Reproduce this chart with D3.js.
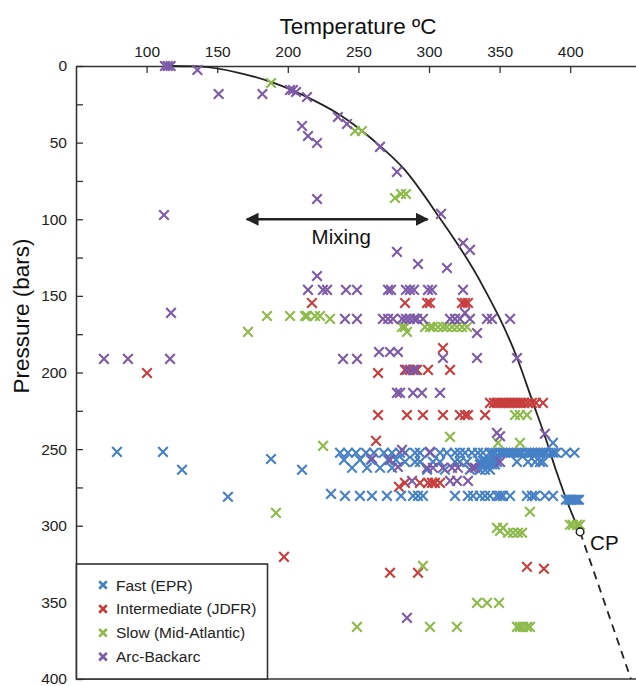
<!DOCTYPE html>
<html><head><meta charset="utf-8">
<script src="https://cdn.jsdelivr.net/npm/d3@7"></script>
<style>
body{margin:0;background:#fff;}
svg{display:block;font-family:"Liberation Sans",Arial,Helvetica,sans-serif;}
</style></head>
<body><svg id="c" width="636" height="686"></svg>
<script>
// ---- data (Temperature °C, Pressure bars) ----
const seriesNames = ["Fast (EPR)", "Intermediate (JDFR)", "Slow (Mid-Atlantic)", "Arc-Backarc"];
const seriesColors = ["#4580c6", "#c83c3c", "#8dba4a", "#7d5aa8"];

const fastData = [
 [79,251.8],[111.6,251.8],[125.1,263.5],[157.6,281.1],[188.1,256.4],[210.1,263.5],[230.6,279.2],
 [237,252.4],[242.6,252.4],[248.3,252.4],[255.4,252.4],[261,252.4],[268.1,252.4],[273.8,252.4],[279.5,252.4],
 [283,252.4],[290.1,252.4],[293.6,252.4],[300.7,252.4],[307.8,252.4],[312.7,252.4],[318.4,252.4],[321.9,252.4],
 [325.5,252.4],[330.4,252.4],[334.7,252.4],[338.2,252.4],
 [343,252.4],[345,252.4],[347,252.4],[350,252.4],[352,252.4],[354,252.4],[356,252.4],[358,252.4],[360,252.4],
 [362,252.4],[364,252.4],[366,252.4],[369,252.4],[371,252.4],[373,252.4],[375,252.4],[377,252.4],[379,252.4],
 [381,252.4],[383,252.4],[386,252.4],[388,252.4],[390,252.4],[397,252.4],[403,252.4],
 [239.8,257],[251.1,257],[258.9,257],[271,257],[276.6,257],
 [283,258.3],[290.1,258.3],[293.6,258.3],[302.8,258.3],[307.8,258.3],[318.4,258.3],[321.9,258.3],[326.9,258.3],
 [336.1,258.3],[338.9,258.3],[341.1,258.3],[343.2,258.3],[346,258.3],[348.1,258.3],[362.3,258.3],[370.1,258.3],
 [375.1,258.3],[378.6,258.3],[380.7,258.3],
 [336.1,260],[338.2,260],[340.4,260],[342.5,260],[344.6,260],[346.7,260],
 [245.5,262.2],[256.1,262.2],[265.3,262.2],[273.8,262.2],
 [298.6,263.5],[311.3,263.5],[329,263.5],[336.1,263.5],[339.7,263.5],[343.2,263.5],
 [240.5,280.5],[251.1,280.5],[259.6,280.5],[270.2,280.5],[280.2,280.5],[288.7,280.5],[292.2,280.5],[295.7,280.5],
 [318.4,280.5],[327.6,280.5],[331.2,280.5],[336.1,280.5],[339.7,280.5],[343.2,280.5],[348.1,280.5],[350.3,280.5],
 [352.4,280.5],[357.4,280.5],[369.4,280.5],[372.9,280.5],[375.1,280.5],[382.1,280.5],[387.8,280.5],
 [397,283],[399.1,283],[400.5,283],[401.9,283],[403.4,283],[404.8,283],[406.2,283],
 [387.8,245.9]
];
const intermediateData = [
 [100.3,200.3],[217.1,154.6],[283,154.6],[298.6,154.6],[300.7,154.6],[323.4,154.6],[325.5,154.6],[327.6,154.6],
 [309.9,184],[263.9,200.3],
 [283,198.3],[286.5,198.3],[291.5,198.3],[299.3,198.3],[314.9,198.3],
 [343.2,219.8],[346,219.8],[348.1,219.8],[350.3,219.8],[352.4,219.8],[354.5,219.8],[356.7,219.8],[358.8,219.8],
 [360.9,219.8],[363,219.8],[365.2,219.8],[367.3,219.8],[370.1,219.8],[372.9,219.8],[375.8,219.8],[380.7,219.8],
 [263.9,227.7],[284.4,227.7],[295.7,227.7],[309.9,227.7],[321.9,227.7],[325.5,227.7],[327.6,227.7],[339.7,227.7],
 [262.5,244.6],
 [283,272],[293.6,272],[299.3,272],[302.1,272],[304.2,272],[307.8,272],[278.7,274.6],
 [197.3,320.3],[272.4,330.7],[292.2,330.7],[369.4,326.8],[381.4,328.1]
];
const slowData = [
 [188.1,11.1],[247.6,42.4],[252.5,42.4],[275.9,86.1],[280.2,83.5],[283.7,83.5],
 [185.3,163.1],[201.6,163.1],[212.2,163.1],[213.6,163.1],[219.3,163.1],[222.8,163.1],[229.9,165],[171.8,173.5],
 [280.9,170.3],[283,170.3],[297.2,170.3],[300.7,170.3],[302.8,170.3],[306.4,170.3],[309.9,170.3],[312.7,170.3],
 [316.3,170.3],[319.8,170.3],[323.4,170.3],[326.9,170.3],[284.4,173.5],
 [360.9,227.7],[364.4,227.7],[369.4,227.7],
 [314.9,242],[348.9,245.9],[364.4,245.9],[225,247.9],
 [191.6,291.6],[371.5,290.9],
 [399.8,299.4],[401.9,299.4],[404.8,299.4],[406.9,299.4],
 [348.1,301.4],[350.3,303.4],[352.4,301.4],[356,304.6],[359.5,304.6],[363,304.6],[365.9,304.6],
 [295.7,326.2],[334,350.3],[341.1,350.3],[349.6,350.3],
 [249,366],[300.7,366],[319.8,366],[362.3,366],[364.4,366],[366.6,366],[369.4,366],[371.5,366]
];
const arcData = [
 [113,0],[115,0],[117,0],[136,2.6],[151,18.3],[182,18.3],[201.6,15.7],[203.7,15.7],[205.8,17],[213.6,20.2],
 [210.1,39.1],[214.3,45.7],[220.7,50.2],[235.5,33.3],[241.9,37.8],[265.3,52.8],[277.3,69.1],[220.7,86.8],
 [308.5,96.5],[112.3,97.2],[324.1,115.5],[329,120],[277.3,121.3],[292.2,129.2],[312.7,131.8],[220.7,137],
 [214.3,146.1],[224.9,146.1],[227.8,146.1],[241.2,146.1],[249,146.1],[271,146.1],[273.1,146.1],[283.7,146.1],
 [286.5,146.1],[289.4,146.1],[299.3,146.1],[302.1,146.1],[324.1,146.1],
 [117.3,161.1],
 [240.5,165],[249,165],[267.4,165],[271,165],[274.5,165],[280.9,165],[283.7,165],[286.5,165],[289.4,165],
 [291.5,165],[295.7,165],[314.9,165],[318.4,165],[321.9,165],[329,165],[341.1,165],[344.6,165],[357.4,165],
 [325.5,161.1],[334,174.2],
 [309.9,190.5],[334,190.5],[362.3,190.5],[239.1,191.1],[249,191.1],
 [264.6,186.6],[272.4,186.6],[278,186.6],
 [69.8,191.1],[86.8,191.1],[116.6,191.1],
 [284.4,198.3],[288.7,198.3],[290.1,198.3],
 [277.3,213.3],[279.5,213.3],[288.7,213.3],[295,213.3],[307.8,213.3],
 [348.1,239.4],[350.3,241.6],[382.1,240],
 [280.9,250.5],[300.7,251.8],
 [259.6,256.1],[272.4,257],[278,261.6],
 [298.6,262.2],[302.8,262.2],[309.9,262.2],[316.3,262.2],[320.5,262.2],[330.4,262.2],[332.6,262.2],[350.3,258.3],
 [288,270.7],[314.9,270.7],[319.8,270.7],[327.6,270.7],
 [284.4,360.1]
];
const allSeries = [fastData, intermediateData, slowData, arcData];

// boiling curve and critical point
const curveT = [113,136,166,190,213,237,260,283,306,336,363,373,383,390,403,407];
const curveP = [0,0.3,4.6,11,20,32,48,68,97,140,192,218,244,264,296,304];
const criticalPoint = [407,304];
const supercriticalEnd = [443,400];
const mixingRange = [171, 299];
const mixingPressure = 100;

const xTicks = [100,150,200,250,300,350,400];
const yTicks = [0,25,50,75,100,125,150,175,200,225,250,275,300,325,350,375,400];

// ---- drawing ----
const svg = d3.select("#c");
const x = d3.scaleLinear().domain([50,450]).range([76,640.8]);
const y = d3.scaleLinear().domain([0,400]).range([66,679]);
const axisColor = "#333";

// top axis
const gx = svg.append("g").attr("transform","translate(0,66)")
  .call(d3.axisTop(x).tickValues(xTicks).tickSizeInner(-7).tickSizeOuter(0).tickPadding(9));
gx.select(".domain").attr("stroke",axisColor).attr("stroke-width",1.6);
gx.selectAll(".tick line").attr("stroke",axisColor).attr("stroke-width",1.3);
gx.selectAll(".tick text").attr("font-size",15.5).attr("fill","#222")
  .attr("font-family","'Liberation Sans',Arial,sans-serif");

// left axis
const gy = svg.append("g").attr("transform","translate(76,0)")
  .call(d3.axisLeft(y).tickValues(yTicks).tickSizeInner(-7).tickSizeOuter(0).tickPadding(9)
    .tickFormat(d => d % 50 === 0 ? d : ""));
gy.select(".domain").attr("stroke",axisColor).attr("stroke-width",1.6);
gy.selectAll(".tick line").attr("stroke",axisColor).attr("stroke-width",1.3);
gy.selectAll(".tick text").attr("font-size",15.5).attr("fill","#222")
  .attr("font-family","'Liberation Sans',Arial,sans-serif");

// bottom frame line
svg.append("line").attr("x1",x(50)).attr("x2",636).attr("y1",y(400)).attr("y2",y(400))
  .attr("stroke",axisColor).attr("stroke-width",1.6);

// titles
svg.append("text").attr("x",358).attr("y",34).attr("text-anchor","middle")
  .attr("font-size",22.5).attr("fill","#111").text("Temperature ºC");
svg.append("text").attr("transform","translate(29,316) rotate(-90)").attr("text-anchor","middle")
  .attr("font-size",22.5).attr("fill","#111").text("Pressure (bars)");

// boiling curve
const curvePts = curveT.map((t,i)=>[t,curveP[i]]);
svg.append("path").datum(curvePts)
  .attr("d", d3.line().x(d=>x(d[0])).y(d=>y(d[1])).curve(d3.curveMonotoneX))
  .attr("fill","none").attr("stroke","#222").attr("stroke-width",1.8);
svg.append("line")
  .attr("x1",x(criticalPoint[0])).attr("y1",y(criticalPoint[1]))
  .attr("x2",x(supercriticalEnd[0])).attr("y2",y(supercriticalEnd[1]))
  .attr("stroke","#222").attr("stroke-width",1.8).attr("stroke-dasharray","8,6");

// markers
const xPath = s => `M${-s},${-s}L${s},${s}M${-s},${s}L${s},${-s}`;
allSeries.forEach((data,i)=>{
  svg.append("g").selectAll("path").data(data).join("path")
    .attr("transform",d=>`translate(${x(d[0])},${y(d[1])})`)
    .attr("d",xPath(4.8)).attr("fill","none")
    .attr("stroke",seriesColors[i]).attr("stroke-width",2.1);
});

// critical point marker
svg.append("circle").attr("cx",x(criticalPoint[0])).attr("cy",y(criticalPoint[1])).attr("r",3.8)
  .attr("fill","#fff").attr("stroke","#222").attr("stroke-width",1.5);
svg.append("text").attr("x",x(criticalPoint[0])+10).attr("y",y(criticalPoint[1])+18)
  .attr("font-size",20.5).attr("fill","#111").text("CP");

// mixing arrow
const defs = svg.append("defs");
defs.append("marker").attr("id","ah").attr("viewBox","0 0 10 10").attr("refX",9).attr("refY",5)
  .attr("markerWidth",5).attr("markerHeight",5).attr("orient","auto-start-reverse")
  .attr("markerUnits","strokeWidth")
  .append("path").attr("d","M0,0L10,5L0,10Z").attr("fill","#222");
svg.append("line").attr("x1",x(mixingRange[0])).attr("x2",x(mixingRange[1]))
  .attr("y1",y(mixingPressure)).attr("y2",y(mixingPressure))
  .attr("stroke","#222").attr("stroke-width",2.6)
  .attr("marker-start","url(#ah)").attr("marker-end","url(#ah)");
svg.append("text").attr("x",x((mixingRange[0]+mixingRange[1])/2)+4).attr("y",y(mixingPressure)+25)
  .attr("text-anchor","middle").attr("font-size",20.5).attr("fill","#111").text("Mixing");

// legend
const lg = svg.append("g");
lg.append("rect").attr("x",76.5).attr("y",564).attr("width",191).attr("height",115)
  .attr("fill","#fff").attr("stroke",axisColor).attr("stroke-width",1.6);
seriesNames.forEach((name,i)=>{
  const cy = 585 + i*23.9;
  lg.append("path").attr("transform",`translate(103,${cy})`).attr("d",xPath(3.8))
    .attr("stroke",seriesColors[i]).attr("stroke-width",2.7).attr("fill","none");
  lg.append("text").attr("x",116).attr("y",cy+5.5).attr("font-size",15.5).attr("fill","#222").text(name);
});
</script></body></html>
